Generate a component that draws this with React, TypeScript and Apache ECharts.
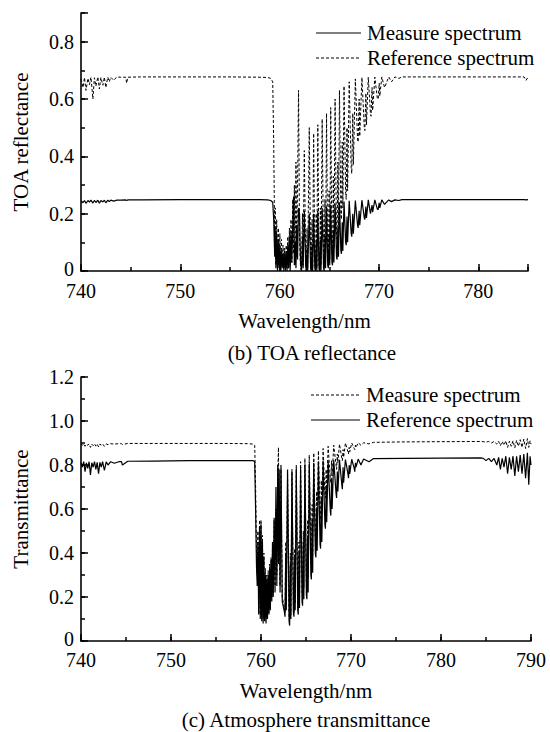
import React, { useEffect, useRef } from "react";
import * as echarts from "echarts";

const FONT = "Liberation Serif";

// ---------- Panel (b): TOA reflectance ----------
const toaWavelength = [
  740, 740.2, 740.35, 740.5, 740.7, 740.85, 741.0, 741.2, 741.35, 741.5, 741.7, 741.85, 742.0, 742.2, 742.35, 742.5, 742.7, 742.85, 743.0, 743.3, 743.6, 744.0, 744.5, 744.6, 744.7,
  746, 750, 755, 758, 758.8, 759.1, 759.3, 759.4, 759.5,
  759.55, 759.62, 759.7, 759.78, 759.86, 759.94, 760.02, 760.1, 760.18, 760.26, 760.34, 760.42, 760.5, 760.58, 760.66, 760.74, 760.82, 760.9, 760.98,
  761.06, 761.14, 761.22, 761.32, 761.4, 761.48, 761.56, 761.64, 761.72, 761.8, 761.9, 762.0, 762.1, 762.2, 762.3, 762.36, 762.48,
  762.62, 762.68, 762.76, 762.82, 762.98,
  763.12, 763.18, 763.26, 763.32, 763.42,
  763.54, 763.6, 763.68, 763.74, 763.84,
  763.96, 764.02, 764.1, 764.16, 764.28,
  764.42, 764.48, 764.56, 764.62, 764.72,
  764.84, 764.9, 764.98, 765.04, 765.14,
  765.26, 765.32, 765.4, 765.46, 765.58,
  765.72, 765.78, 765.86, 765.92, 766.02,
  766.16, 766.22, 766.3, 766.36, 766.48,
  766.64, 766.7, 766.78, 766.84, 767.0,
  767.2, 767.26, 767.36, 767.42, 767.62,
  767.84, 767.9, 768.0, 768.06, 768.28,
  768.52, 768.58, 768.68, 768.74, 768.92,
  769.14, 769.2, 769.3, 769.36, 769.58,
  769.84, 769.92, 770.02, 770.08, 770.28,
  770.56, 770.62, 770.98, 771.26, 771.6, 772.0, 772.3, 775, 780, 784.6, 784.8, 785,
];

const toaMeasure = [
  0.245, 0.238, 0.246, 0.236, 0.246, 0.24, 0.247, 0.237, 0.246, 0.239, 0.247, 0.236, 0.246, 0.241, 0.247, 0.238, 0.247, 0.242, 0.247, 0.244, 0.247, 0.247, 0.248, 0.246, 0.248,
  0.248, 0.249, 0.249, 0.249, 0.248, 0.246, 0.24, 0.18, 0.05,
  0.15, 0.01, 0.13, 0.0, 0.11, 0.01, 0.09, 0.0, 0.07, 0.01, 0.06, 0.0, 0.06, 0.01, 0.07, 0.0, 0.09, 0.01, 0.12,
  0.0, 0.14, 0.03, 0.16, 0.26, 0.02, 0.1, 0.01, 0.16, 0.04, 0.22, 0.2, 0.03, 0.0, 0.12, 0.01, 0.21,
  0.02, 0.0, 0.08, 0.0, 0.2,
  0.01, 0.0, 0.09, 0.0, 0.2,
  0.01, 0.0, 0.1, 0.0, 0.21,
  0.01, 0.0, 0.11, 0.0, 0.22,
  0.01, 0.0, 0.12, 0.01, 0.225,
  0.02, 0.01, 0.13, 0.02, 0.23,
  0.03, 0.02, 0.14, 0.03, 0.235,
  0.05, 0.04, 0.15, 0.05, 0.24,
  0.07, 0.06, 0.17, 0.07, 0.242,
  0.1, 0.09, 0.19, 0.1, 0.245,
  0.13, 0.12, 0.2, 0.13, 0.246,
  0.16, 0.15, 0.21, 0.16, 0.247,
  0.185, 0.18, 0.225, 0.185, 0.248,
  0.2, 0.2, 0.23, 0.205, 0.248,
  0.215, 0.215, 0.238, 0.22, 0.248,
  0.232, 0.235, 0.248, 0.242, 0.248, 0.246, 0.249, 0.249, 0.249, 0.249, 0.248, 0.249,
];

const toaReference = [
  0.67, 0.64, 0.675, 0.63, 0.672, 0.65, 0.676, 0.6, 0.674, 0.645, 0.677, 0.635, 0.675, 0.648, 0.676, 0.64, 0.676, 0.66, 0.676, 0.665, 0.677, 0.676, 0.676, 0.655, 0.676,
  0.677, 0.677, 0.677, 0.676, 0.675, 0.672, 0.66, 0.45, 0.1,
  0.22, 0.02, 0.18, 0.01, 0.15, 0.02, 0.13, 0.0, 0.11, 0.02, 0.09, 0.01, 0.08, 0.0, 0.09, 0.01, 0.12, 0.01, 0.15,
  0.02, 0.18, 0.03, 0.25, 0.06, 0.3, 0.02, 0.38, 0.05, 0.3, 0.63, 0.12, 0.01, 0.0, 0.2, 0.02, 0.42,
  0.03, 0.0, 0.15, 0.01, 0.5,
  0.02, 0.0, 0.18, 0.01, 0.48,
  0.02, 0.0, 0.2, 0.01, 0.51,
  0.02, 0.0, 0.22, 0.02, 0.53,
  0.03, 0.01, 0.25, 0.03, 0.55,
  0.04, 0.02, 0.28, 0.04, 0.57,
  0.07, 0.05, 0.33, 0.08, 0.6,
  0.12, 0.1, 0.38, 0.14, 0.63,
  0.2, 0.18, 0.45, 0.22, 0.645,
  0.27, 0.25, 0.5, 0.28, 0.66,
  0.36, 0.34, 0.55, 0.37, 0.67,
  0.46, 0.45, 0.6, 0.47, 0.675,
  0.5, 0.49, 0.62, 0.51, 0.676,
  0.55, 0.54, 0.64, 0.56, 0.676,
  0.6, 0.6, 0.655, 0.61, 0.677,
  0.64, 0.645, 0.677, 0.66, 0.677, 0.672, 0.677, 0.677, 0.677, 0.677, 0.665, 0.676,
];

const toaXMajor = [740, 750, 760, 770, 780];
const toaYMajor = [0, 0.2, 0.4, 0.6, 0.8];

// ---------- Panel (c): Atmosphere transmittance ----------
const trWavelength = [
  740, 740.15, 740.3, 740.45, 740.6, 740.75, 740.9, 741.05, 741.2, 741.35, 741.5, 741.65, 741.8, 741.95, 742.1, 742.25, 742.4, 742.6, 742.8, 743.0, 743.3, 743.7, 744.2, 744.5, 744.6, 745.2,
  748, 752, 756, 758.5, 759.1, 759.3, 759.4, 759.5,
  759.58, 759.66, 759.74, 759.84, 759.92, 760.0, 760.08, 760.16, 760.24, 760.32, 760.4, 760.48, 760.56, 760.64, 760.72, 760.8, 760.88, 760.96, 761.04, 761.12, 761.2, 761.28, 761.36, 761.46, 761.56, 761.66, 761.76, 761.86, 761.94,
  762.02, 762.12, 762.22, 762.36,
  762.61, 762.67, 762.75, 762.81, 762.95,
  763.12, 763.18, 763.26, 763.32, 763.44,
  763.6, 763.66, 763.74, 763.8, 763.92,
  764.08, 764.14, 764.22, 764.28, 764.4,
  764.56, 764.62, 764.7, 764.76, 764.88,
  765.04, 765.1, 765.18, 765.24, 765.36,
  765.54, 765.6, 765.68, 765.74, 765.86,
  766.04, 766.1, 766.18, 766.24, 766.38,
  766.56, 766.62, 766.7, 766.76, 766.9,
  767.1, 767.16, 767.24, 767.3, 767.46,
  767.7, 767.76, 767.84, 767.9, 768.08,
  768.34, 768.4, 768.48, 768.54, 768.72,
  768.98, 769.04, 769.12, 769.18, 769.38,
  769.66, 769.72, 769.8, 769.86, 770.08,
  770.36, 770.42, 770.5, 770.56, 770.8,
  771.1, 771.4, 772.0, 772.5, 776, 780, 784.5,
  784.7, 785.0, 785.3, 785.6, 785.9, 786.2, 786.4, 786.6, 786.8, 787.0, 787.2, 787.4, 787.6, 787.8, 788.0, 788.2, 788.4, 788.6, 788.8, 789.0, 789.2, 789.4, 789.6, 789.75, 789.9, 790,
];

const trMeasure = [
  0.895, 0.89, 0.897, 0.885, 0.895, 0.89, 0.896, 0.88, 0.895, 0.888, 0.896, 0.886, 0.895, 0.882, 0.895, 0.89, 0.896, 0.885, 0.896, 0.892, 0.897, 0.895, 0.897, 0.897, 0.893, 0.898,
  0.898, 0.898, 0.898, 0.897, 0.895, 0.89, 0.7, 0.4,
  0.3, 0.5, 0.15, 0.55, 0.12, 0.55, 0.11, 0.48, 0.1, 0.4, 0.1, 0.33, 0.1, 0.3, 0.11, 0.32, 0.13, 0.35, 0.15, 0.38, 0.2, 0.45, 0.22, 0.55, 0.25, 0.6, 0.3, 0.75, 0.88,
  0.45, 0.25, 0.78, 0.2,
  0.15, 0.13, 0.45, 0.17, 0.76,
  0.11, 0.09, 0.4, 0.12, 0.78,
  0.15, 0.13, 0.42, 0.17, 0.8,
  0.17, 0.15, 0.45, 0.19, 0.815,
  0.22, 0.2, 0.5, 0.24, 0.83,
  0.27, 0.25, 0.55, 0.29, 0.845,
  0.37, 0.35, 0.62, 0.39, 0.855,
  0.48, 0.46, 0.68, 0.5, 0.865,
  0.57, 0.55, 0.73, 0.58, 0.875,
  0.67, 0.65, 0.78, 0.68, 0.885,
  0.74, 0.72, 0.82, 0.75, 0.89,
  0.8, 0.78, 0.85, 0.81, 0.895,
  0.83, 0.82, 0.87, 0.835, 0.9,
  0.86, 0.85, 0.88, 0.86, 0.9,
  0.875, 0.87, 0.89, 0.88, 0.901,
  0.89, 0.901, 0.896, 0.903, 0.905, 0.906, 0.907,
  0.906, 0.904, 0.907, 0.9, 0.907, 0.895, 0.908, 0.888, 0.907, 0.89, 0.91, 0.88, 0.908, 0.885, 0.91, 0.878, 0.912, 0.885, 0.915, 0.88, 0.918, 0.875, 0.92, 0.88, 0.91, 0.895,
];

const trReference = [
  0.81, 0.79, 0.815, 0.77, 0.81, 0.785, 0.815, 0.755, 0.81, 0.79, 0.815, 0.78, 0.812, 0.76, 0.812, 0.79, 0.815, 0.775, 0.814, 0.8, 0.815, 0.808, 0.815, 0.815, 0.8, 0.817,
  0.818, 0.82, 0.82, 0.82, 0.82, 0.815, 0.6, 0.34,
  0.25, 0.45, 0.12, 0.52, 0.1, 0.53, 0.09, 0.45, 0.08, 0.38, 0.09, 0.3, 0.08, 0.28, 0.1, 0.3, 0.12, 0.33, 0.14, 0.37, 0.18, 0.45, 0.2, 0.56, 0.22, 0.7, 0.25, 0.8, 0.35,
  0.78, 0.22, 0.8, 0.18,
  0.13, 0.11, 0.4, 0.14, 0.78,
  0.09, 0.07, 0.35, 0.1, 0.77,
  0.13, 0.11, 0.38, 0.14, 0.78,
  0.14, 0.12, 0.4, 0.15, 0.79,
  0.18, 0.16, 0.45, 0.19, 0.8,
  0.21, 0.19, 0.48, 0.22, 0.805,
  0.3, 0.28, 0.55, 0.31, 0.81,
  0.4, 0.38, 0.6, 0.41, 0.815,
  0.44, 0.42, 0.65, 0.45, 0.82,
  0.53, 0.51, 0.7, 0.54, 0.82,
  0.59, 0.57, 0.74, 0.6, 0.822,
  0.67, 0.65, 0.77, 0.68, 0.824,
  0.71, 0.69, 0.79, 0.72, 0.825,
  0.76, 0.74, 0.8, 0.76, 0.826,
  0.785, 0.77, 0.81, 0.79, 0.827,
  0.8, 0.827, 0.815, 0.829, 0.83, 0.831, 0.832,
  0.83, 0.82, 0.83, 0.815, 0.83, 0.8, 0.835, 0.78, 0.83, 0.79, 0.84, 0.76, 0.835, 0.78, 0.84, 0.75, 0.84, 0.77, 0.845, 0.76, 0.85, 0.74, 0.855, 0.71, 0.84, 0.8,
];

const trXMajor = [740, 750, 760, 770, 780, 790];
const trYMajor = [0, 0.2, 0.4, 0.6, 0.8, 1.0, 1.2];

const zip = (xs: number[], ys: number[]) => xs.map((x, i) => [x, ys[i]]);
const has = (list: number[], v: number) => list.some((t) => Math.abs(t - v) < 1e-6);

const lineColor = "#000";
const textStyle = { fontFamily: FONT, color: "#000" };

function majorX(grid: number, min: number, max: number, labels: number[], margin: number) {
  return {
    gridIndex: grid, type: "value", position: "bottom", min, max, interval: 10,
    axisLine: { show: true, onZero: false, lineStyle: { color: lineColor, width: 1.6 } },
    axisTick: { show: true, inside: true, length: 7, lineStyle: { color: lineColor, width: 1.5 } },
    axisLabel: {
      show: true, margin, fontSize: 20, lineHeight: 18, ...textStyle,
      formatter: (v: number) => (has(labels, v) ? String(v) : ""),
    },
    splitLine: { show: false },
    name: "Wavelength/nm", nameLocation: "middle", nameGap: 39,
    nameTextStyle: { fontSize: 21, ...textStyle },
  };
}
function minorX(grid: number, min: number, max: number) {
  return {
    gridIndex: grid, type: "value", position: "bottom", min, max, interval: 5,
    axisLine: { show: false, onZero: false },
    axisTick: { show: true, inside: true, length: 4, lineStyle: { color: lineColor, width: 1.5 } },
    axisLabel: { show: false },
    splitLine: { show: false },
  };
}
function majorY(grid: number, min: number, max: number, labels: number[], name: string) {
  return {
    gridIndex: grid, type: "value", position: "left", min, max, interval: 0.2,
    axisLine: { show: true, onZero: false, lineStyle: { color: lineColor, width: 1.6 } },
    axisTick: { show: true, inside: true, length: 7, lineStyle: { color: lineColor, width: 1.5 } },
    axisLabel: {
      show: true, margin: 7, fontSize: 20, lineHeight: 18, ...textStyle,
      formatter: (v: number) => (has(labels, v) ? (v === 0 ? "{z|0}" : v.toFixed(1)) : ""),
      rich: { z: { fontSize: 20, lineHeight: 18, fontFamily: FONT, color: "#000", padding: [0, 0, 5, 0] } },
    },
    splitLine: { show: false },
    name, nameLocation: "middle", nameGap: 50,
    nameTextStyle: { fontSize: 21, ...textStyle },
  };
}
function minorY(grid: number, min: number, max: number) {
  return {
    gridIndex: grid, type: "value", position: "left", min, max, interval: 0.1,
    axisLine: { show: false, onZero: false },
    axisTick: { show: true, inside: true, length: 4, lineStyle: { color: lineColor, width: 1.5 } },
    axisLabel: { show: false },
    splitLine: { show: false },
  };
}

function legendItem(x1: number, x2: number, y: number, dashed: boolean, label: string) {
  return [
    {
      type: "line",
      shape: { x1, y1: y, x2, y2: y },
      style: { stroke: "#000", lineWidth: 1.2, lineDash: dashed ? [3, 2] : null },
    },
    {
      type: "text",
      x: x2 + 6, y,
      style: { text: label, fontSize: 21, fontFamily: FONT, fill: "#000", align: "left", verticalAlign: "middle" },
    },
  ];
}

export default function App() {
  const ref = useRef<HTMLDivElement>(null);
  useEffect(() => {
    if (!ref.current) return;
    const chart = echarts.init(ref.current, undefined, { renderer: "svg" });
    const solid = { color: "#000", width: 1.2, type: "solid" as const };
    const dashed = { color: "#000", width: 1, type: [3, 2] as any };
    chart.setOption({
      animation: false,
      backgroundColor: "#fff",
      textStyle: { fontFamily: FONT },
      grid: [
        { left: 81, top: 13, width: 447, height: 258 },
        { left: 81, top: 377, width: 450, height: 264 },
      ],
      xAxis: [
        majorX(0, 740, 785, toaXMajor, 11),
        minorX(0, 740, 785),
        majorX(1, 740, 790, trXMajor, 10),
        minorX(1, 740, 790),
      ],
      yAxis: [
        majorY(0, 0, 0.9, toaYMajor, "TOA reflectance"),
        minorY(0, 0, 0.9),
        majorY(1, 0, 1.2, trYMajor, "Transmittance"),
        minorY(1, 0, 1.2),
      ],
      series: [
        { name: "Measure spectrum", type: "line", xAxisIndex: 0, yAxisIndex: 0, data: zip(toaWavelength, toaMeasure), showSymbol: false, symbol: "none", lineStyle: solid },
        { name: "Reference spectrum", type: "line", xAxisIndex: 0, yAxisIndex: 0, data: zip(toaWavelength, toaReference), showSymbol: false, symbol: "none", lineStyle: dashed },
        { name: "Reference spectrum", type: "line", xAxisIndex: 2, yAxisIndex: 2, data: zip(trWavelength, trReference), showSymbol: false, symbol: "none", lineStyle: solid },
        { name: "Measure spectrum", type: "line", xAxisIndex: 2, yAxisIndex: 2, data: zip(trWavelength, trMeasure), showSymbol: false, symbol: "none", lineStyle: dashed },
      ],
      graphic: [
        ...legendItem(316, 361, 33, false, "Measure spectrum"),
        ...legendItem(316, 361, 58, true, "Reference spectrum"),
        ...legendItem(311, 360, 395, true, "Measure spectrum"),
        ...legendItem(311, 360, 420, false, "Reference spectrum"),
        {
          type: "text", x: 312, y: 353,
          style: { text: "(b) TOA reflectance", fontSize: 21, fontFamily: FONT, fill: "#000", align: "center", verticalAlign: "middle" },
        },
        {
          type: "text", x: 306, y: 720,
          style: { text: "(c) Atmosphere transmittance", fontSize: 21, fontFamily: FONT, fill: "#000", align: "center", verticalAlign: "middle" },
        },
      ],
    });
    return () => chart.dispose();
  }, []);
  return <div ref={ref} style={{ position: "absolute", left: 0, top: 0, width: 550, height: 732, background: "#fff" }} />;
}
